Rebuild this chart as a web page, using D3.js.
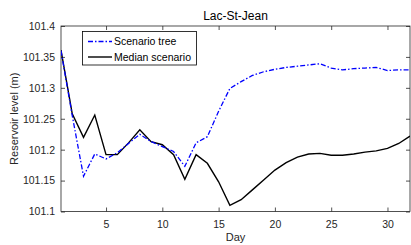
<!DOCTYPE html>
<html>
<head>
<meta charset="utf-8">
<script src="https://cdn.jsdelivr.net/npm/d3@7"></script>
<style>
  body { margin: 0; background: #fff; }
  svg { display: block; font-family: "Liberation Sans", Arial, sans-serif; }
</style>
</head>
<body>
<div class="chart"></div>
<script>
// data
const days = d3.range(1, 33);
const scenarioTree = [101.36, 101.255, 101.157, 101.193, 101.185, 101.195, 101.21, 101.225,
  101.213, 101.205, 101.197, 101.173, 101.211, 101.221, 101.262, 101.299, 101.31, 101.32,
  101.326, 101.33, 101.333, 101.335, 101.337, 101.339, 101.332, 101.329, 101.331, 101.332,
  101.333, 101.328, 101.329, 101.329];
const medianScenario = [101.361, 101.258, 101.22, 101.256, 101.192, 101.192, 101.211, 101.232,
  101.213, 101.208, 101.192, 101.152, 101.192, 101.178, 101.148, 101.11, 101.119, 101.135,
  101.151, 101.167, 101.179, 101.188, 101.193, 101.194, 101.191, 101.191, 101.193, 101.196,
  101.198, 101.202, 101.21, 101.222];
const xTicks = [5, 10, 15, 20, 25, 30];
const yTicks = [101.1, 101.15, 101.2, 101.25, 101.3, 101.35, 101.4];
const seriesNames = ["Scenario tree", "Median scenario"];

const width = 411;
const height = 245;
const mLeft = 61, mRight = 410, mTop = 26, mBottom = 211.5;
const axisColor = "#262626";

const svg = d3
  .select(".chart")
  .append("svg")
  .attr("width", width)
  .attr("height", height);

const x = d3.scaleLinear().domain([1, 32]).range([mLeft, mRight]);
const y = d3.scaleLinear().domain([101.1, 101.4]).range([mBottom, mTop]);

svg.append("clipPath").attr("id", "plot")
  .append("rect")
  .attr("x", mLeft).attr("y", mTop)
  .attr("width", mRight - mLeft).attr("height", mBottom - mTop);

// axes with inward ticks, MATLAB-like box
function styleAxis(g) {
  g.select(".domain").remove();
  g.selectAll("line").attr("stroke", axisColor).attr("stroke-width", 0.8);
  g.selectAll("text").attr("fill", axisColor).attr("font-size", "10.5px");
}

svg.append("g")
  .attr("transform", "translate(0," + mBottom + ")")
  .call(d3.axisBottom(x).tickValues(xTicks).tickSize(-4).tickPadding(9))
  .call(styleAxis);

svg.append("g")
  .attr("transform", "translate(0," + mTop + ")")
  .call(d3.axisTop(x).tickValues(xTicks).tickSize(-4).tickFormat(""))
  .call(styleAxis);

svg.append("g")
  .attr("transform", "translate(" + mLeft + ",0)")
  .call(d3.axisLeft(y).tickValues(yTicks).tickSize(-4).tickPadding(6).tickFormat(d3.format("")))
  .call(styleAxis);

svg.append("g")
  .attr("transform", "translate(" + mRight + ",0)")
  .call(d3.axisRight(y).tickValues(yTicks).tickSize(-4).tickFormat(""))
  .call(styleAxis);

svg.append("rect")
  .attr("x", mLeft).attr("y", mTop)
  .attr("width", mRight - mLeft).attr("height", mBottom - mTop)
  .attr("fill", "none")
  .attr("stroke", axisColor)
  .attr("stroke-width", 0.8);

const line = d3.line()
  .x(function (d, i) { return x(days[i]); })
  .y(function (d) { return y(d); });

const lines = svg.append("g").attr("clip-path", "url(#plot)");

lines.append("path")
  .datum(medianScenario)
  .attr("d", line)
  .attr("fill", "none")
  .attr("stroke", "#000")
  .attr("stroke-width", 1.4);

lines.append("path")
  .datum(scenarioTree)
  .attr("d", line)
  .attr("fill", "none")
  .attr("stroke", "#0000ff")
  .attr("stroke-width", 1.3)
  .attr("stroke-dasharray", "5,2,1.5,2");

// title and labels
svg.append("text")
  .attr("x", (mLeft + mRight) / 2)
  .attr("y", 20)
  .attr("text-anchor", "middle")
  .attr("font-size", "12px")
  .attr("fill", "#000")
  .text("Lac-St-Jean");

svg.append("text")
  .attr("x", (mLeft + mRight) / 2)
  .attr("y", 241)
  .attr("text-anchor", "middle")
  .attr("font-size", "11px")
  .attr("fill", axisColor)
  .text("Day");

svg.append("text")
  .attr("transform", "translate(18," + (mTop + mBottom) / 2 + ") rotate(-90)")
  .attr("text-anchor", "middle")
  .attr("font-size", "11px")
  .attr("fill", axisColor)
  .text("Reservoir level (m)");

// legend
const legend = svg.append("g");
legend.append("rect")
  .attr("x", 82.5).attr("y", 31.5)
  .attr("width", 114).attr("height", 33.5)
  .attr("fill", "#fff")
  .attr("stroke", "#000")
  .attr("stroke-width", 0.8);

const styles = [
  { color: "#0000ff", dash: "5,2,1.5,2", w: 1.3 },
  { color: "#000", dash: null, w: 1.4 }
];
seriesNames.forEach(function (name, i) {
  const ly = 41.5 + i * 15.5;
  legend.append("line")
    .attr("x1", 88).attr("x2", 112)
    .attr("y1", ly).attr("y2", ly)
    .attr("stroke", styles[i].color)
    .attr("stroke-width", styles[i].w)
    .attr("stroke-dasharray", styles[i].dash);
  legend.append("text")
    .attr("x", 114)
    .attr("y", ly + 3.8)
    .attr("font-size", "10.5px")
    .attr("fill", "#000")
    .text(name);
});
</script>
</body>
</html>
